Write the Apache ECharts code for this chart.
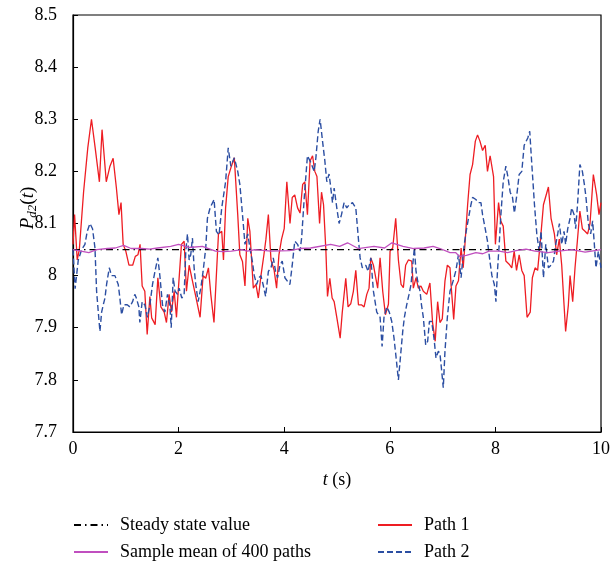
<!DOCTYPE html>
<html>
<head>
<meta charset="utf-8">
<script src="https://cdn.jsdelivr.net/npm/echarts@6/dist/echarts.min.js"></script>
<style>
html,body{margin:0;padding:0;background:#fff;}
#c{width:613px;height:571px;}
</style>
</head>
<body>
<div id="c"></div>
<script>
const xTicks = [0, 2, 4, 6, 8, 10];
const yTicks = [7.7, 7.8, 7.9, 8, 8.1, 8.2, 8.3, 8.4, 8.5];
const steadyValue = 8.05;
const steadyT = [0, 10];

const path1 = [
[0.0,8.06],[0.03,8.117],[0.08,8.03],[0.12,8.05],[0.2,8.16],[0.28,8.245],[0.35,8.30],[0.42,8.245],[0.5,8.18],[0.55,8.28],[0.63,8.18],[0.7,8.21],[0.76,8.225],[0.82,8.17],[0.87,8.117],[0.91,8.14],[0.95,8.06],[1.0,8.047],[1.06,8.02],[1.13,8.02],[1.18,8.037],[1.23,8.04],[1.27,8.06],[1.31,7.98],[1.36,7.97],[1.405,7.887],
[1.456,7.96],[1.49,7.919],[1.556,7.906],[1.607,7.996],[1.664,7.94],[1.727,7.93],[1.77,7.91],[1.82,7.964],[1.865,7.93],[1.916,7.97],[1.96,7.92],[1.997,7.976],[2.054,8.06],[2.105,8.066],[2.149,7.97],[2.2,8.02],[2.262,7.99],[2.325,7.96],[2.407,7.92],[2.464,8.0],[2.514,7.995],[2.565,8.015],[2.61,7.964],[2.67,7.91],[2.755,8.08],[2.817,8.085],
[2.85,8.03],[2.89,8.13],[2.94,8.19],[3.0,8.21],[3.055,8.226],[3.12,8.117],[3.16,8.04],[3.21,8.027],[3.257,7.98],[3.31,8.11],[3.35,8.085],[3.415,7.976],[3.465,7.983],[3.51,7.957],[3.56,8.0],[3.616,8.04],[3.654,8.07],[3.7,8.117],[3.75,8.03],[3.81,8.01],[3.856,7.976],[3.9,8.04],[3.95,8.07],[4.0,8.09],[4.05,8.18],[4.11,8.10],[4.152,8.15],[4.2,8.155],[4.253,8.13],
[4.30,8.12],[4.35,8.175],[4.39,8.18],[4.44,8.117],[4.49,8.22],[4.537,8.23],[4.58,8.2],[4.62,8.19],[4.67,8.1],[4.707,8.16],[4.745,8.136],[4.79,8.047],[4.82,7.96],[4.864,7.995],[4.908,7.957],[4.946,7.95],[4.996,7.92],[5.06,7.88],[5.1,7.93],[5.166,7.995],[5.21,7.94],[5.26,7.946],[5.31,7.97],[5.356,8.01],[5.406,7.944],[5.463,7.944],[5.513,7.94],[5.564,7.964],[5.607,7.976],[5.64,8.034],[5.69,8.02],
[5.77,7.976],[5.816,8.034],[5.866,7.97],[5.917,7.925],[5.974,7.945],[6.005,8.047],[6.055,8.053],[6.112,8.11],[6.163,8.03],[6.213,7.983],[6.257,7.977],[6.3,8.02],[6.352,8.03],[6.415,8.028],[6.446,7.976],[6.497,7.996],[6.54,7.976],[6.59,7.98],[6.635,7.97],[6.7,7.964],[6.76,7.986],[6.81,7.91],[6.86,7.874],[6.906,7.95],[6.95,7.91],[6.994,7.917],[7.045,7.99],[7.09,8.02],[7.14,8.015],
[7.16,7.983],[7.21,7.916],[7.253,7.98],[7.3,7.99],[7.35,8.053],[7.39,8.015],[7.423,8.06],[7.474,8.136],[7.52,8.194],[7.568,8.213],[7.62,8.258],[7.662,8.27],[7.707,8.258],[7.757,8.24],[7.807,8.25],[7.85,8.2],[7.9,8.23],[7.965,8.19],[8.0,8.06],[8.06,8.14],[8.1,8.105],[8.148,8.095],[8.198,8.028],[8.26,8.022],[8.31,8.015],[8.356,8.047],[8.4,8.01],[8.45,8.04],[8.5,8.01],[8.545,8.0],
[8.6,7.92],[8.66,7.93],[8.7,7.996],[8.752,8.015],[8.8,8.01],[8.846,8.06],[8.91,8.136],[9.004,8.17],[9.054,8.11],[9.117,8.08],[9.16,8.04],[9.21,8.07],[9.256,8.02],[9.3,7.944],[9.33,7.893],[9.382,7.944],[9.414,8.0],[9.464,7.95],[9.508,8.015],[9.552,8.066],[9.6,8.124],[9.647,8.09],[9.697,8.085],[9.747,8.08],[9.792,8.1],[9.855,8.194],[9.918,8.155],[9.962,8.117],[10.0,8.14]
];

const path2 = [
[0.0,8.05],[0.04,7.975],[0.1,8.03],[0.164,8.05],[0.226,8.06],[0.27,8.085],[0.321,8.1],[0.37,8.09],[0.416,8.053],[0.447,7.97],[0.479,7.93],[0.51,7.893],[0.542,7.93],[0.573,7.944],[0.605,7.957],[0.636,7.983],[0.687,8.015],[0.73,8.0],[0.794,8.0],[0.857,7.983],[0.888,7.957],[0.92,7.925],[0.964,7.944],[1.027,7.944],[1.077,7.94],[1.128,7.95],[1.17,7.964],[1.2,7.957],[1.247,7.94],[1.266,7.91],[1.31,7.95],[1.36,7.944],
[1.41,7.92],[1.456,7.944],[1.506,7.983],[1.556,8.01],[1.607,8.034],[1.645,8.0],[1.695,7.944],[1.74,7.93],[1.79,7.964],[1.834,7.944],[1.86,7.90],[1.897,7.996],[1.934,7.97],[1.98,7.964],[2.01,7.976],[2.06,7.957],[2.105,7.964],[2.136,8.047],[2.168,8.08],[2.2,8.03],[2.23,8.04],[2.262,8.072],[2.294,8.015],[2.325,7.983],[2.37,7.95],[2.42,7.976],[2.464,8.008],[2.514,8.053],[2.546,8.11],[2.596,8.13],[2.672,8.146],[2.716,8.085],[2.766,8.078],[2.817,8.13],
[2.85,8.13],[2.89,8.18],[2.94,8.245],[2.99,8.21],[3.055,8.226],[3.12,8.2],[3.16,8.175],[3.194,8.136],[3.226,8.098],[3.257,8.06],[3.31,8.08],[3.35,8.053],[3.396,8.028],[3.434,8.0],[3.478,7.983],[3.52,7.996],[3.56,8.0],[3.6,7.983],[3.648,7.96],[3.7,8.008],[3.75,8.015],[3.793,8.034],[3.837,8.008],[3.875,7.996],[3.92,8.02],[3.963,8.028],[4.013,7.996],[4.05,7.996],[4.108,7.983],[4.152,8.02],[4.2,8.066],[4.253,8.06],
[4.30,8.047],[4.33,8.072],[4.38,8.15],[4.44,8.23],[4.505,8.217],[4.568,8.2],[4.6,8.226],[4.644,8.277],[4.68,8.30],[4.726,8.258],[4.77,8.22],[4.807,8.18],[4.85,8.195],[4.883,8.168],[4.915,8.14],[4.946,8.168],[4.996,8.13],[5.04,8.10],[5.085,8.117],[5.135,8.14],[5.186,8.13],[5.23,8.136],[5.293,8.14],[5.356,8.13],[5.406,8.07],[5.438,8.034],[5.48,8.015],[5.545,8.02],[5.589,8.008],[5.64,8.034],[5.69,7.97],
[5.753,7.93],[5.816,7.92],[5.854,7.864],[5.89,7.92],[5.942,7.94],[5.99,7.93],[6.037,7.912],[6.08,7.88],[6.12,7.842],[6.163,7.80],[6.207,7.85],[6.245,7.893],[6.276,7.92],[6.32,7.944],[6.364,7.964],[6.402,7.983],[6.434,8.02],[6.465,8.053],[6.497,8.008],[6.528,7.99],[6.572,7.97],[6.6,7.944],[6.635,7.92],[6.68,7.867],[6.717,7.874],[6.75,7.912],[6.793,7.912],[6.837,7.88],[6.875,7.842],[6.92,7.855],[6.95,7.85],[6.98,7.82],[7.013,7.785],[7.045,7.855],[7.09,7.92],[7.14,7.97],
[7.2,7.99],[7.253,8.01],[7.3,8.04],[7.35,7.996],[7.38,8.03],[7.41,8.06],[7.455,8.09],[7.49,8.11],[7.537,8.136],[7.568,8.15],[7.63,8.146],[7.68,8.14],[7.726,8.14],[7.757,8.117],[7.807,8.09],[7.85,8.066],[7.896,8.028],[7.934,8.0],[7.98,7.983],[8.01,7.95],[8.04,8.01],[8.072,8.06],[8.104,8.117],[8.148,8.18],[8.198,8.21],[8.236,8.19],[8.28,8.16],[8.324,8.15],[8.36,8.12],[8.406,8.155],[8.45,8.194],[8.5,8.2],[8.545,8.25],
[8.613,8.264],[8.65,8.277],[8.69,8.213],[8.74,8.136],[8.784,8.08],[8.828,8.047],[8.865,8.085],[8.91,7.996],[8.954,8.06],[9.004,8.015],[9.054,8.02],[9.1,8.028],[9.143,8.06],[9.18,8.08],[9.212,8.1],[9.256,8.06],[9.3,8.085],[9.33,8.06],[9.37,8.09],[9.414,8.11],[9.445,8.13],[9.49,8.117],[9.52,8.09],[9.558,8.14],[9.6,8.213],[9.647,8.2],[9.685,8.175],[9.716,8.15],[9.76,8.1],[9.804,8.08],[9.842,8.105],[9.874,8.06],[9.905,8.015],[9.95,8.047],[10.0,8.015]
];

const meanPath = [
[0,8.05],[0.15,8.047],[0.3,8.044],[0.45,8.05],[0.65,8.052],[0.8,8.053],[0.96,8.058],[1.1,8.052],[1.3,8.052],[1.45,8.051],[1.6,8.053],[1.85,8.056],[2.0,8.06],[2.2,8.054],[2.45,8.056],[2.7,8.047],[2.85,8.046],[3.0,8.047],[3.2,8.05],[3.3,8.047],[3.45,8.05],[3.75,8.047],[4.1,8.048],[4.3,8.052],[4.5,8.053],[4.88,8.06],[5.05,8.056],[5.2,8.063],[5.4,8.052],[5.7,8.056],[5.9,8.053],[6.04,8.063],[6.25,8.056],[6.45,8.052],[6.65,8.053],[6.82,8.056],[6.95,8.052],[7.14,8.044],[7.25,8.044],[7.32,8.037],[7.45,8.039],[7.63,8.044],[7.76,8.042],[7.88,8.047],[8.07,8.047],[8.23,8.044],[8.39,8.048],[8.58,8.051],[8.75,8.047],[9.0,8.044],[9.2,8.047],[9.45,8.05],[9.7,8.045],[9.82,8.047],[10,8.05]
];

const names = ['Steady state value', 'Sample mean of 400 paths', 'Path 1', 'Path 2'];
const FONT = '"Liberation Serif", "DejaVu Serif", serif';

const legendBase = {
  orient: 'vertical', top: 516, padding: 0, itemWidth: 34, itemHeight: 10, itemGap: 9,
  itemStyle: {opacity: 0, borderWidth: 0},
  textStyle: {fontFamily: FONT, fontSize: 18, color: '#000', padding: [0, 0, 0, 7]}
};

const chart = echarts.init(document.getElementById('c'), null, {renderer: 'canvas'});
chart.setOption({
  animation: false,
  backgroundColor: '#fff',
  grid: {left: 73, right: 11, top: 15, bottom: 139, show: true, borderColor: '#000', borderWidth: 1.2, backgroundColor: 'transparent'},
  xAxis: {
    type: 'value', min: xTicks[0], max: xTicks[xTicks.length - 1], interval: 2,
    axisLine: {lineStyle: {color: '#000', width: 1.2}},
    axisTick: {inside: true, length: 5, lineStyle: {color: '#000'}},
    splitLine: {show: false},
    axisLabel: {color: '#000', fontFamily: FONT, fontSize: 18, margin: 8},
    name: '{i|t} (s)', nameLocation: 'middle', nameGap: 39,
    nameTextStyle: {color: '#000', fontFamily: FONT, fontSize: 18, rich: {i: {fontStyle: 'italic', fontFamily: FONT, fontSize: 18, color: '#000'}}}
  },
  yAxis: {
    type: 'value', min: yTicks[0], max: yTicks[yTicks.length - 1], interval: 0.1,
    axisLine: {lineStyle: {color: '#000', width: 1.2}},
    axisTick: {inside: true, length: 5, lineStyle: {color: '#000'}},
    splitLine: {show: false},
    axisLabel: {color: '#000', fontFamily: FONT, fontSize: 18, margin: 16,
      formatter: v => String(Math.round(v * 10) / 10)}
  },
  legend: [
    Object.assign({}, legendBase, {data: [names[0], names[1]], left: 73}),
    Object.assign({}, legendBase, {data: [names[2], names[3]], left: 377})
  ],
  graphic: [{
    type: 'text', x: 28, y: 208, rotation: Math.PI / 2,
    style: {
      text: '{i|P}{s|d2}{n|(}{i|t}{n|)}', align: 'center', verticalAlign: 'middle',
      rich: {
        i: {fontFamily: FONT, fontStyle: 'italic', fontSize: 19, fill: '#000', lineHeight: 22},
        s: {fontFamily: FONT, fontStyle: 'italic', fontSize: 13, fill: '#000', lineHeight: 22, padding: [10, 0, 0, 0]},
        n: {fontFamily: FONT, fontSize: 19, fill: '#000', lineHeight: 22}
      }
    }
  }],
  series: [
    {name: names[2], type: 'line', data: path1, showSymbol: false, symbol: 'none',
     lineStyle: {color: '#ee1d23', width: 1.3}, itemStyle: {color: '#ee1d23'}},
    {name: names[3], type: 'line', data: path2, showSymbol: false, symbol: 'none',
     lineStyle: {color: '#2b4ea2', width: 1.4, type: [6, 3]}, itemStyle: {color: '#5a76c2'}},
    {name: names[0], type: 'line', data: steadyT.map(t => [t, steadyValue]), showSymbol: false, symbol: 'none',
     lineStyle: {color: '#000', width: 1.3, type: [7, 4, 1.5, 4]}, itemStyle: {color: '#000'}},
    {name: names[1], type: 'line', data: meanPath, showSymbol: false, symbol: 'none',
     lineStyle: {color: '#c04fbf', width: 1.3}, itemStyle: {color: '#c04fbf'}}
  ]
});
</script>
</body>
</html>
